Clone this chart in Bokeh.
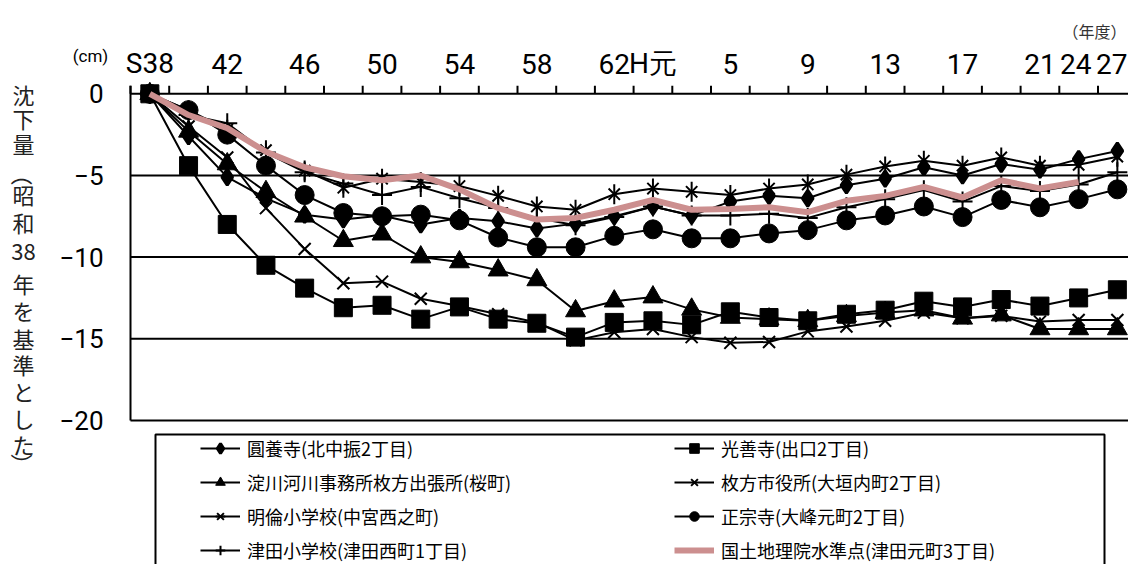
import math
from bokeh.plotting import figure
from bokeh.models import Range1d, Legend, LegendItem, Label, BoxAnnotation, Grid
from bokeh.core.properties import value
from bokeh.embed import file_html
from bokeh.resources import INLINE

# ---------------- data ----------------
categories = ["S38", "S40", "S42", "S44", "S46", "S48", "S50", "S52", "S54", "S56",
              "S58", "S60", "S62", "H元", "H3", "H5", "H7", "H9", "H11", "H13",
              "H15", "H17", "H19", "H21", "H24", "H27"]
tick_labels = {"S38": "S38", "S42": "42", "S46": "46", "S50": "50", "S54": "54",
               "S58": "58", "S62": "62", "H元": "H元", "H5": "5", "H9": "9",
               "H13": "13", "H17": "17", "H21": "21", "H24": "24", "H27": "27"}
y_ticks = [0, -5, -10, -15, -20]
y_tick_labels = ["0", "−5", "−10", "−15", "−20"]

names = ["圓養寺(北中振2丁目)", "光善寺(出口2丁目)", "淀川河川事務所枚方出張所(桜町)",
         "枚方市役所(大垣内町2丁目)", "明倫小学校(中宮西之町)", "正宗寺(大峰元町2丁目)",
         "津田小学校(津田西町1丁目)", "国土地理院水準点(津田元町3丁目)"]

enyoji = [0, -2.6, -5.1, -6.4, -7.4, -7.7, -7.45, -8.0, -7.6, -7.8, -8.25, -7.95, -7.5,
          -6.9, -7.45, -6.6, -6.25, -6.4, -5.6, -5.2, -4.5, -5.0, -4.3, -4.65, -4.0, -3.5]
kozenji = [0, -4.4, -8.0, -10.5, -11.9, -13.1, -12.95, -13.8, -13.05, -13.8, -14.05, -14.9, -14.0,
           -13.9, -14.15, -13.35, -13.7, -13.9, -13.5, -13.25, -12.7, -13.05, -12.6, -13.0, -12.5, -12.0]
yodogawa = [0, -2.3, -4.3, -6.0, -7.5, -9.0, -8.6, -10.0, -10.3, -10.8, -11.4, -13.3, -12.7,
            -12.45, -13.2, -13.7, -13.8, -13.9, -13.6, -13.4, -13.25, -13.75, -13.55, -14.4, -14.4, -14.4]
shiyakusho = [0, -2.0, -3.9, -7.0, -9.5, -11.6, -11.5, -12.55, -13.0, -13.5, -14.0, -15.1, -14.6,
              -14.4, -14.9, -15.25, -15.2, -14.55, -14.25, -13.9, -13.4, -13.75, -13.6, -13.95, -13.85, -13.85]
meirin = [0, -1.0, -2.2, -3.45, -4.7, -5.75, -5.2, -5.4, -5.65, -6.25, -6.9, -7.1, -6.15,
          -5.8, -6.0, -6.2, -5.8, -5.55, -4.95, -4.45, -4.1, -4.4, -3.9, -4.4, -4.35, -3.85]
shoshuji = [0, -1.0, -2.5, -4.4, -6.2, -7.3, -7.5, -7.4, -7.75, -8.8, -9.4, -9.4, -8.7,
            -8.3, -8.85, -8.85, -8.55, -8.35, -7.75, -7.45, -6.9, -7.55, -6.5, -6.95, -6.45, -5.85]
tsuda = [0, -1.3, -1.8, -3.6, -4.8, -5.5, -6.2, -5.7, -6.4, -7.0, -7.6, -8.05, -7.55,
         -6.9, -7.45, -7.45, -7.35, -7.6, -6.95, -6.45, -5.9, -6.6, -5.65, -5.95, -5.55, -4.8]
gsi = [0, -1.3, -2.1, -3.55, -4.5, -5.05, -5.3, -5.0, -5.85, -7.0, -7.7, -7.6, -7.1,
       -6.5, -7.1, -7.05, -6.95, -7.25, -6.55, -6.25, -5.7, -6.35, -5.3, -5.8, -5.4]

y_title = ["沈", "下", "量", "（", "昭", "和", "38", "年", "を", "基", "準", "と", "し", "た", "）"]
x_unit_label = "(cm)"
year_label = "（年度）"

# ---------------- layout (pixels of the page -> data units) ----------------
W, H = 1128, 564
CAT_PX, CM_PX = 38.7, 16.33
X0_PX, Y0_PX = 130, 93.3

def dx(px):
    return (px - X0_PX) / CAT_PX

def dy(py):
    return -(py - Y0_PX) / CM_PX

SANS = "Roboto"
JP = "Noto Sans CJK JP"
TICK = 8 / CM_PX

p = figure(width=W, height=H, output_backend="svg", toolbar_location=None,
           x_range=Range1d(dx(0), dx(W)), y_range=Range1d(dy(H), dy(0)),
           x_axis_location=None, y_axis_location=None,
           min_border_left=0, min_border_right=0, min_border_top=0, min_border_bottom=0,
           background_fill_color="white", border_fill_color="white")
p.outline_line_color = None
p.center = [r for r in p.center if not isinstance(r, Grid)]

n = len(categories)
xs = [i + 0.5 for i in range(n)]

# axis frame: top axis line + horizontal grid lines + bottom line, left axis line, ticks
p.segment(x0=[0] * len(y_ticks), x1=[n] * len(y_ticks), y0=y_ticks, y1=y_ticks,
          line_color="black", line_width=2)
p.segment(x0=[0], x1=[0], y0=[min(y_ticks)], y1=[TICK], line_color="black", line_width=2)
bounds = list(range(n + 1))
p.segment(x0=bounds, x1=bounds, y0=[0] * len(bounds), y1=[TICK] * len(bounds),
          line_color="black", line_width=2)

# tick labels (the last two nudged left so they stay apart and inside the picture)
tick_x = [xs[categories.index(c)] for c in tick_labels]
tick_off = [0] * (len(tick_x) - 2) + [-3, -5.5]
p.text(x=tick_x, y=[dy(63)] * len(tick_labels), x_offset=tick_off,
       text=list(tick_labels.values()), text_font=value(SANS), text_font_size=value("28px"),
       text_align="center", text_baseline="middle", text_color="black")
p.text(x=[dx(103)] * len(y_ticks), y=y_ticks, text=y_tick_labels,
       text_font=value(SANS), text_font_size=value("26px"),
       text_align="right", text_baseline="middle", text_color="black")

# ---------------- series ----------------
items = []

def series(vals, label, markers):
    x = xs[:len(vals)]
    rs = [p.line(x, vals, line_color="black", line_width=2)]
    for m in markers:
        rs.append(p.scatter(x, vals, fill_color="black", line_color="black", **m))
    items.append(LegendItem(label=label, renderers=rs))

series(enyoji, names[0], [dict(marker="diamond", size=16, line_width=3)])
series(kozenji, names[1], [dict(marker="square", size=18, line_width=1)])
series(yodogawa, names[2], [dict(marker="triangle", size=20, line_width=1)])
series(shiyakusho, names[3], [dict(marker="x", size=17, line_width=2)])
series(meirin, names[4], [dict(marker="x", size=16, line_width=2),
                           dict(marker="dash", size=20, angle=math.pi / 2, line_width=2)])
series(shoshuji, names[5], [dict(marker="circle", size=19, line_width=1)])
series(tsuda, names[6], [dict(marker="cross", size=20, line_width=2)])
pink = p.line(xs[:len(gsi)], gsi, line_color="#CC8F8F", line_width=6)
items.append(LegendItem(label=names[7], renderers=[pink]))

legend = Legend(items=items, location=(194, -4.5), orientation="horizontal", ncols=2,
                glyph_width=40, glyph_height=24, label_height=24, label_width=419,
                label_standoff=7, spacing=8, padding=6, margin=0,
                label_text_font=JP, label_text_font_size="18px", label_text_color="black",
                border_line_alpha=0, background_fill_alpha=0)
p.add_layout(legend, "center")

p.add_layout(BoxAnnotation(left=dx(155), right=dx(1104), top=dy(434), bottom=dy(620),
                           fill_alpha=0, line_color="black", line_width=2, line_alpha=1))

# ---------------- texts ----------------
p.add_layout(Label(x=dx(90), y=dy(55), text=x_unit_label, text_font=SANS,
                   text_font_size="17px", text_align="center", text_baseline="middle",
                   text_color="black"))
p.add_layout(Label(x=dx(1126), y=dy(30), text=year_label, text_font=JP,
                   text_font_size="16px", text_align="right", text_baseline="middle",
                   text_color="#333333"))

ycent = [93, 117.5, 142.5, 174, 193.5, 221, 251.5, 282.5, 309, 337, 363, 390, 417.5, 443, 464]
yangle = [-math.pi / 2 if ch in "（）" else 0 for ch in y_title]
p.text(x=[dx(23)] * len(y_title), y=[dy(v) for v in ycent], text=y_title, angle=yangle,
       text_font=value(JP), text_font_size=value("22px"), text_align="center",
       text_baseline="middle", text_color="#222222")

open("out.html", "w", encoding="utf-8").write(file_html(p, INLINE, "chart"))
